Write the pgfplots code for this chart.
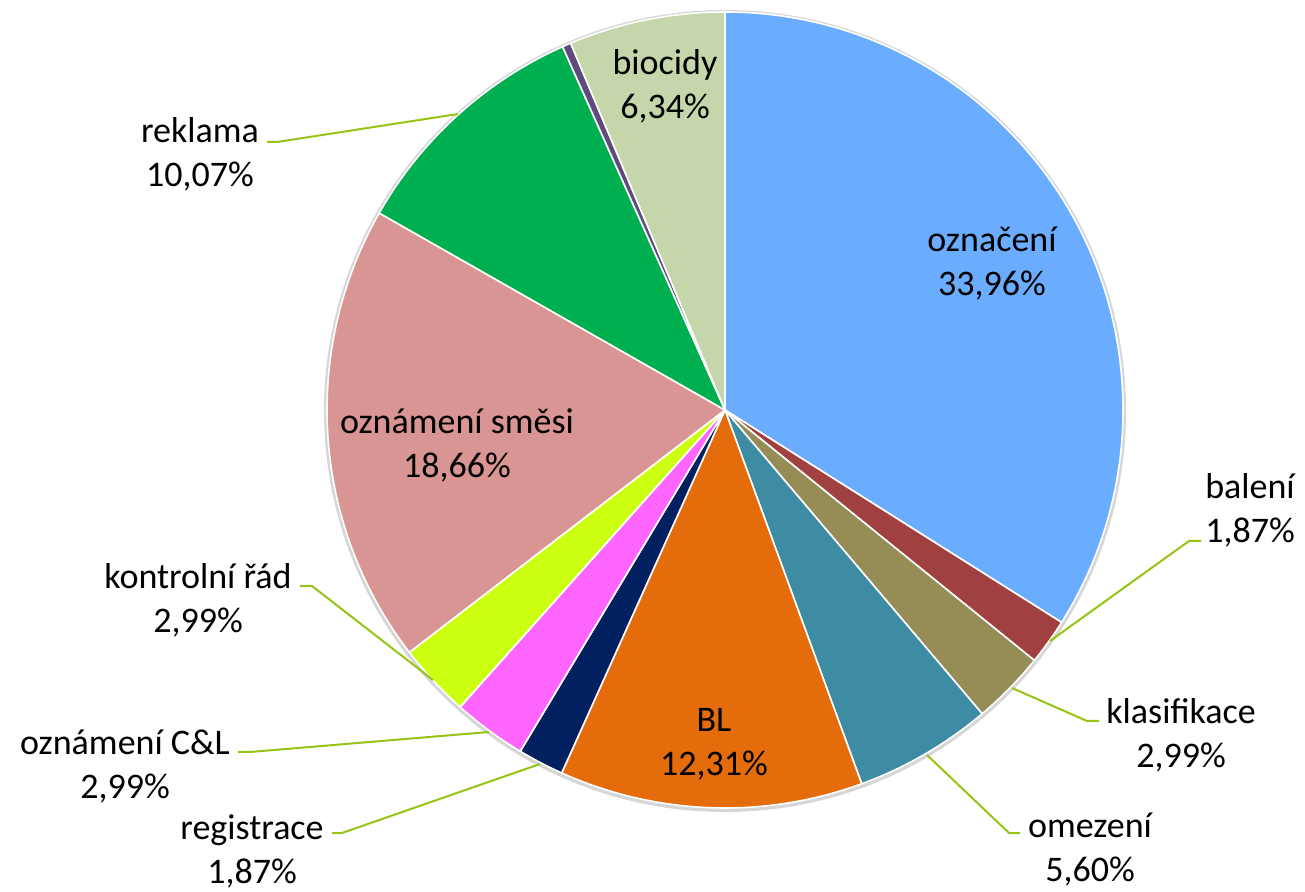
\documentclass[border=0pt]{standalone}
\usepackage{pgfplots}
\pgfplotsset{compat=1.18}
\usepackage{fontspec}
\setmainfont{Carlito}
\definecolor{cOzn}{RGB}{106,173,255}
\definecolor{cBal}{RGB}{160,64,64}
\definecolor{cKla}{RGB}{150,140,85}
\definecolor{cOme}{RGB}{61,140,163}
\definecolor{cBL}{RGB}{228,108,10}
\definecolor{cReg}{RGB}{0,32,96}
\definecolor{cCL}{RGB}{255,102,255}
\definecolor{cKon}{RGB}{204,255,17}
\definecolor{cSme}{RGB}{217,149,148}
\definecolor{cRek}{RGB}{0,176,80}
\definecolor{cPur}{RGB}{96,74,123}
\definecolor{cBio}{RGB}{196,214,170}
\definecolor{cLead}{RGB}{150,196,20}
\tikzset{lbl/.style={font=\fontsize{36}{44}\selectfont, align=center, inner sep=0pt}}
% slice: start %, end %, colour (cumulative percentages, clockwise from 12 o'clock)
\newcommand{\slice}[3]{\fill[#3, draw=white, line width=1.6pt, line join=round]
  (axis cs:725,481) -- ++({90-3.6*#1}:398pt)
  arc[start angle={90-3.6*#1}, end angle={90-3.6*#2}, radius=398pt] -- cycle;}
\begin{document}
\begin{tikzpicture}
\useasboundingbox (0,0) rectangle (1305pt,891pt);
\begin{axis}[width=1305pt,height=891pt,scale only axis,
  xmin=0,xmax=1305,ymin=0,ymax=891,hide axis,clip=false]
\fill[black!16] (axis cs:725,480) circle[radius=401pt];
\slice{0}{33.96}{cOzn}
\slice{33.96}{35.83}{cBal}
\slice{35.83}{38.82}{cKla}
\slice{38.82}{44.42}{cOme}
\slice{44.42}{56.73}{cBL}
\slice{56.73}{58.60}{cReg}
\slice{58.60}{61.59}{cCL}
\slice{61.59}{64.58}{cKon}
\slice{64.58}{83.24}{cSme}
\slice{83.24}{93.31}{cRek}
\slice{93.31}{93.66}{cPur}
\slice{93.66}{100}{cBio}
% leader lines
\draw[cLead, line width=2pt] (axis cs:1050,250) -- (axis cs:1189,350) -- (axis cs:1201,350);
\draw[cLead, line width=2pt] (axis cs:1012,203) -- (axis cs:1087,170) -- (axis cs:1099,170);
\draw[cLead, line width=2pt] (axis cs:927,136) -- (axis cs:1009,58) -- (axis cs:1020,58);
\draw[cLead, line width=2pt] (axis cs:540,127) -- (axis cs:342,58) -- (axis cs:332,58);
\draw[cLead, line width=2pt] (axis cs:489,159) -- (axis cs:250,139) -- (axis cs:238,139);
\draw[cLead, line width=2pt] (axis cs:433,211) -- (axis cs:312,305) -- (axis cs:300,305);
\draw[cLead, line width=2pt] (axis cs:458,777) -- (axis cs:277,749) -- (axis cs:267,749);
% labels
\node[lbl] at (axis cs:992,627) {označení\\33,96\%};
\node[lbl] at (axis cs:1250,381) {balení\\1,87\%};
\node[lbl] at (axis cs:1181,156) {klasifikace\\2,99\%};
\node[lbl] at (axis cs:1090,41) {omezení\\5,60\%};
\node[lbl] at (axis cs:714,147) {BL\\12,31\%};
\node[lbl] at (axis cs:252,40) {registrace\\1,87\%};
\node[lbl] at (axis cs:125,124) {oznámení C\&L\\2,99\%};
\node[lbl] at (axis cs:198,291) {kontrolní řád\\2,99\%};
\node[lbl] at (axis cs:457,446) {oznámení směsi\\18,66\%};
\node[lbl] at (axis cs:200,737) {reklama\\10,07\%};
\node[lbl] at (axis cs:665,805) {biocidy\\6,34\%};
\end{axis}
\end{tikzpicture}
\end{document}
